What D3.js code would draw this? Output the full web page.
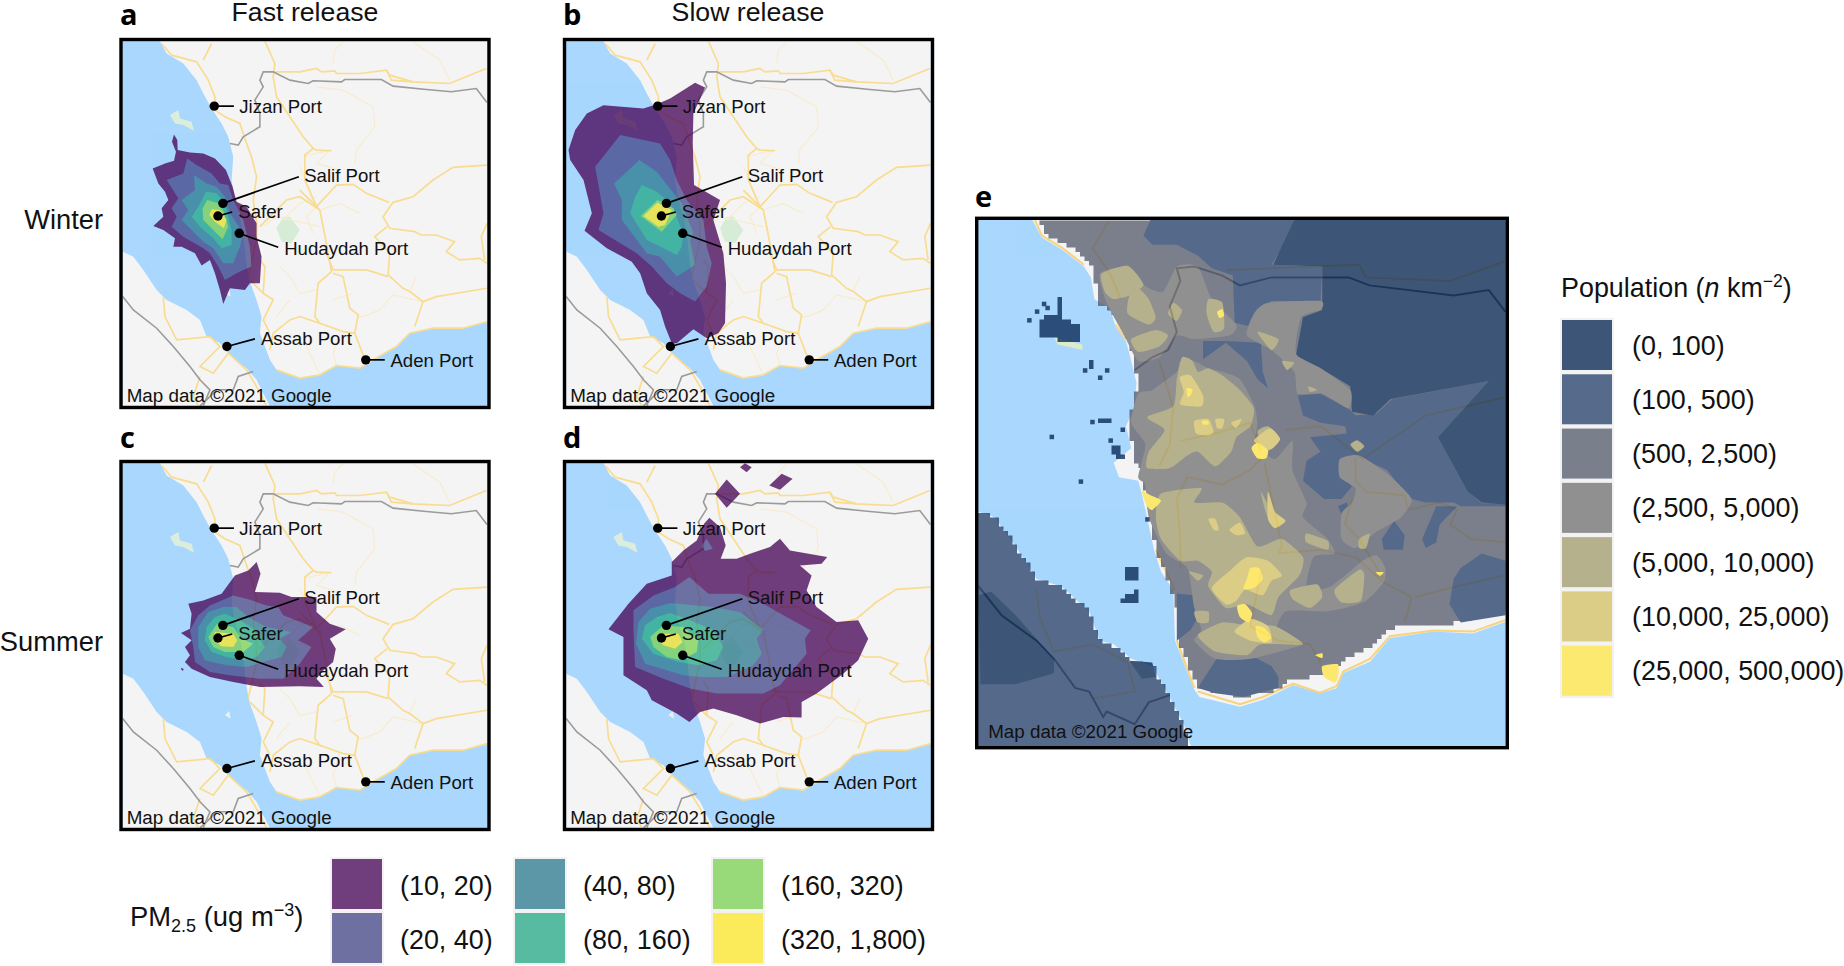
<!DOCTYPE html>
<html>
<head>
<meta charset="utf-8">
<script src="https://cdn.jsdelivr.net/npm/d3@7"></script>
<style>
  html, body { margin: 0; padding: 0; background: #fff; }
  svg { display: block; }
  text { font-family: "Liberation Sans", Arial, sans-serif; fill: #111; }
  .letter { font-family: "Open Sans", sans-serif; font-weight: 700; font-size: 29px; fill: #000; }
  .head { font-size: 26.7px; }
  .row { font-size: 27.3px; }
  .port { font-size: 18.6px; }
  .credit { font-size: 18.8px; }
  .leg { font-size: 26.9px; }
</style>
</head>
<body>
<svg id="chart" width="1844" height="966"></svg>
<script>
// map units are the same for panels a-d, e has its own set
var pmLabels = ['(10, 20)', '(20, 40)', '(40, 80)', '(80, 160)', '(160, 320)', '(320, 1,800)'];
var pmColours = ['#440154', '#414487', '#2a788e', '#22a884', '#7ad151', '#fde725'];
var popLabels = ['(0, 100)', '(100, 500)', '(500, 2,500)', '(2,500, 5,000)', '(5,000, 10,000)', '(10,000, 25,000)', '(25,000, 500,000)'];
var popColours = ['#00204d', '#213c69', '#525869', '#6f6f6f', '#a09b6a', '#d3bf62', '#ffe543'];

var portNames = ['Jizan Port', 'Salif Port', 'Safer', 'Hudaydah Port', 'Assab Port', 'Aden Port'];
var portPoints = [[343,318],[369,610],[354,648],[418,700],[381,1040],[798,1080]];
var portLineEnds = [[402,318],[597,530],[397,636],[535,742],[465,1017],[855,1080]];
var portLabelAt = [[418,338],[613,547],[415,655],[553,765],[483,1035],[872,1100]];

var arabiaLand = [[180,123],[200,160],[250,190],[290,240],[310,280],[335,325],[365,370],[385,410],[400,470],[395,540],[405,600],[420,650],[430,700],[435,750],[440,795],[450,845],[470,900],[485,950],[480,1000],[510,1080],[530,1110],[600,1135],[660,1125],[710,1097],[780,1105],[820,1080],[890,1040],[930,1000],[1000,985],[1090,985],[1163,965],[1163,123]];
var africaLand = [[68,755],[100,770],[130,810],[170,870],[200,900],[260,930],[300,960],[320,1010],[360,1030],[385,1060],[410,1085],[440,1105],[470,1140],[490,1180],[510,1218],[68,1218]];
var paleIsland = [[388,867],[392,890],[375,880]];
var reefs = [[[210,345],[235,330],[240,355],[275,365],[282,392],[250,375],[225,370]]];
var parkArea = [[550,650],[570,650],[600,690],[575,730],[545,725],[530,685]];
var mainRoads = [
  [[185,130],[215,165],[290,185],[325,240],[345,290],[345,330],[375,350],[420,370],[440,430],[455,470],[470,530],[460,600],[470,670],[470,720]],
  [[335,130],[310,180]],
  [[495,123],[525,190],[520,230],[530,290],[570,350],[610,410],[640,445],[615,465],[615,540],[650,620],[660,630],[675,705],[695,815],[655,850],[645,950],[660,970],[600,950],[570,960],[520,1000],[510,1050]],
  [[525,215],[600,215],[650,205],[665,215],[705,212],[710,220],[780,220],[860,210],[870,225],[940,245],[1050,250],[1160,205]],
  [[860,210],[875,240],[940,245]],
  [[640,445],[650,450],[695,452]],
  [[1162,495],[1060,502],[1000,540],[940,590],[880,607],[850,650],[870,685],[945,695],[965,705],[1010,705],[1065,725],[1040,755],[1080,780],[1140,775],[1162,790]],
  [[600,570],[650,620],[710,555],[760,553],[800,580],[868,607]],
  [[862,680],[825,710],[870,760],[865,825],[910,865],[930,875],[970,905],[945,980]],
  [[680,760],[700,810],[800,810],[865,830]],
  [[700,820],[730,830],[750,925],[775,945],[765,1000],[790,1065],[800,1085]],
  [[660,970],[730,995],[765,1000]],
  [[970,905],[1010,890],[1162,865]],
  [[1162,670],[1145,710],[1155,780]],
  [[450,840],[490,880],[520,900],[490,960],[510,1000]],
  [[490,880],[495,800],[480,780]],
  [[530,1110],[600,1135],[660,1125],[710,1097],[780,1105],[820,1080],[890,1040],[930,1000],[1000,985],[1090,985],[1163,965]],
  [[470,720],[445,830]],
  [[190,890],[195,950],[230,1020],[330,1010],[360,1040],[300,1100],[340,1120],[385,1060],[440,1110],[470,1160],[500,1218]],
  [[300,1130],[280,1190],[295,1218]],
  [[660,630],[600,590],[560,600],[480,680]]
];
var faintRoads = [
  [[650,260],[730,270],[820,320],[825,380],[770,450],[765,490]],
  [[940,125],[1020,180],[1050,240]],
  [[700,190],[705,150],[730,125]],
  [[610,470],[690,450],[650,490],[720,510]],
  [[550,660],[600,610],[650,590]],
  [[490,680],[530,650],[660,680]],
  [[600,500],[650,620],[620,650],[640,700]],
  [[660,630],[720,610],[780,640]],
  [[970,905],[880,885],[840,930],[790,950],[775,950]],
  [[930,875],[950,830]],
  [[700,900],[760,880]],
  [[650,870],[600,880],[570,830],[540,800]],
  [[530,950],[570,900]],
  [[570,1000],[620,1040],[660,1125]],
  [[720,1000],[700,1060],[710,1097]]
];
var saudiBorder = [[1162,307],[1130,265],[1055,275],[980,268],[880,258],[845,238],[735,238],[725,245],[640,242],[625,250],[570,240],[520,215],[490,215],[480,240],[490,260],[465,300],[480,340],[480,380],[430,410],[415,435],[390,430]];
var eritreaBorder = [[68,890],[100,930],[170,985],[220,1040],[270,1100],[300,1140],[330,1170],[310,1218]];
var djiboutiBorder = [[460,1115],[415,1130],[400,1170],[350,1170],[320,1200],[300,1218]];

// plume contours, lowest class first
var plumeFastWinter = [
  [[[222,403],[232,420],[233,450],[270,457],[310,460],[345,475],[378,510],[398,560],[410,605],[440,620],[470,670],[470,710],[485,770],[480,850],[450,850],[435,870],[390,865],[370,912],[360,870],[345,820],[330,780],[305,797],[285,760],[245,740],[220,740],[225,715],[190,690],[160,678],[190,650],[185,625],[205,600],[195,575],[175,550],[158,505],[195,490],[222,482],[228,455],[216,425]]],
  [[[262,475],[290,495],[335,520],[360,550],[385,555],[400,600],[430,660],[450,740],[455,800],[430,810],[410,820],[375,840],[355,800],[330,760],[310,745],[250,710],[215,680],[230,650],[215,625],[235,595],[200,540],[250,520]]],
  [[[282,525],[320,550],[350,560],[375,590],[390,640],[410,670],[430,700],[420,740],[400,790],[370,790],[340,745],[310,725],[245,660],[265,630],[245,600],[285,570]]],
  [[[318,575],[350,580],[375,610],[385,650],[395,690],[395,735],[365,745],[340,715],[300,680],[275,650],[295,620]]],
  [[[322,600],[355,610],[372,635],[385,680],[368,718],[340,690],[310,660],[308,625]]],
  [[[335,628],[360,630],[380,660],[372,685],[345,665],[328,645]]]
];
var plumeSlowWinter = [
  [[[435,248],[465,262],[430,340],[428,430],[432,555],[510,600],[490,660],[520,760],[528,850],[525,970],[505,1000],[470,1015],[430,988],[380,1030],[365,1030],[345,980],[330,930],[290,880],[270,820],[245,785],[170,745],[103,692],[125,640],[100,540],[60,480],[55,450],[75,390],[110,340],[160,315],[280,325],[320,312],[360,295]]],
  [[[210,405],[330,430],[360,480],[380,540],[410,600],[460,660],[470,740],[485,790],[470,860],[435,905],[390,880],[350,850],[305,800],[260,760],[145,690],[160,640],[135,500]]],
  [[[268,480],[320,515],[355,560],[395,610],[430,700],[420,720],[435,795],[380,830],[330,770],[290,760],[215,660],[215,600],[192,550]]],
  [[[275,555],[320,575],[350,600],[375,640],[400,700],[395,740],[380,765],[340,745],[290,720],[240,640],[255,590]]],
  [[[322,600],[370,625],[380,645],[335,695],[272,648]]],
  [[[322,608],[365,630],[345,675],[325,680],[280,648]]]
];
var plumeFastSummer = [
  [[[470,395],[482,430],[465,485],[540,487],[575,500],[650,500],[650,545],[690,580],[738,597],[690,625],[708,655],[700,695],[665,725],[650,745],[672,770],[600,768],[480,770],[400,755],[330,740],[275,715],[255,695],[270,675],[255,650],[275,630],[243,608],[270,595],[275,550],[265,520],[310,510],[365,490],[405,435],[445,420]],
   [[242,712],[252,716],[247,722]]],
  [[[400,495],[440,505],[500,525],[535,530],[550,555],[640,590],[595,630],[635,650],[600,700],[550,745],[480,745],[390,735],[330,725],[285,695],[280,650],[270,600],[295,555],[330,525]]],
  [[[410,530],[445,560],[500,590],[575,605],[540,625],[560,650],[545,680],[490,695],[440,710],[380,705],[315,690],[295,650],[295,590],[325,545],[370,530]]],
  [[[375,550],[420,570],[460,595],[495,650],[470,680],[430,690],[380,680],[335,665],[315,630],[320,590],[345,560]]],
  [[[350,582],[400,590],[425,625],[460,640],[430,665],[375,665],[340,650],[325,620]]],
  [[[345,605],[400,610],[412,630],[400,650],[365,648],[340,630]]]
];
var plumeSlowSummer = [
  [[[478,262],[510,290],[527,345],[512,385],[560,385],[600,370],[660,350],[690,325],[720,360],[832,380],[815,400],[750,405],[785,435],[770,480],[800,530],[860,575],[925,570],[955,625],[925,690],[880,730],[800,790],[755,815],[755,862],[700,860],[630,880],[560,855],[490,835],[450,845],[418,875],[380,850],[305,810],[290,780],[220,735],[220,620],[175,597],[235,520],[290,460],[365,435],[365,395],[400,360],[440,330],[462,280]],
   [[585,98],[605,110],[590,125],[570,110]],
   [[530,147],[570,190],[530,232],[495,190]],
   [[695,130],[728,145],[690,178],[658,165]]],
  [[[418,440],[475,490],[570,490],[640,520],[700,555],[782,600],[765,625],[770,670],[690,765],[640,790],[500,790],[420,775],[340,745],[255,710],[250,600],[250,540],[310,495],[375,470]],
   [[470,325],[488,355],[465,362],[455,345]]],
  [[[360,518],[440,525],[490,530],[570,545],[640,598],[620,625],[635,670],[610,705],[530,740],[450,740],[400,735],[335,715],[285,700],[258,640],[265,575],[300,535]]],
  [[[360,548],[420,570],[490,600],[520,650],[500,690],[445,705],[385,695],[310,670],[275,625],[285,585],[320,560]]],
  [[[340,585],[400,590],[445,625],[440,665],[395,690],[350,680],[310,650],[300,620]]],
  [[[335,610],[385,610],[398,635],[375,655],[340,645],[318,625]]]
];

// panel e
var eLand = [[178,82],[205,130],[265,165],[325,210],[345,240],[355,300],[400,325],[415,375],[445,415],[460,470],[475,530],[468,600],[445,650],[460,710],[410,750],[425,790],[480,800],[490,835],[505,900],[525,990],[545,1050],[580,1100],[585,1240],[640,1375],[655,1395],[770,1422],[836,1403],[922,1362],[998,1385],[1046,1371],[1065,1329],[1141,1298],[1198,1233],[1321,1215],[1435,1220],[1528,1188],[1528,82]];
var eAfrica = [[24,885],[70,900],[130,980],[190,1070],[260,1090],[340,1160],[370,1240],[410,1250],[460,1290],[520,1310],[560,1380],[610,1470],[630,1530],[24,1530]];
var eReef = [[240,405],[320,425],[322,440],[250,425]];
var eRoads = [
  [[395,85],[350,160],[400,230],[430,300]],
  [[1528,195],[1370,250],[1130,240],[1110,205],[730,220]],
  [[540,470],[580,600],[570,700],[540,760]],
  [[600,690],[700,670],[800,640],[830,720]],
  [[830,740],[800,770],[720,810],[620,790],[590,850],[600,960],[600,1040]],
  [[840,750],[890,980],[880,1000],[1000,990],[1100,1010],[1180,1080],[1260,1120],[1240,1190]],
  [[900,660],[1000,650],[1120,740],[1300,620],[1528,570]],
  [[1100,740],[1100,800],[1130,830],[1240,840],[1250,880]],
  [[1090,850],[1070,920],[1110,960],[1180,1070]],
  [[1528,1060],[1390,1090],[1270,1120]],
  [[1250,880],[1340,860],[1390,880],[1370,920],[1430,960],[1528,970]],
  [[830,1050],[800,1200],[880,1240],[970,1250],[1000,1300]],
  [[190,1100],[200,1180],[240,1270],[350,1250],[450,1300],[470,1380],[350,1400]]
];
var eCoastRoads = [
  [[185,82],[205,125],[265,160],[325,205]],
  [[415,370],[445,410]],
  [[530,990],[585,1100]],
  [[590,1240],[640,1370]],
  [[650,1380],[770,1415],[836,1395],[922,1358],[998,1383],[1046,1365],[1065,1325],[1141,1290],[1198,1228],[1321,1212],[1435,1215],[1528,1183]]
];
var eBorders = [
  [[1528,335],[1480,275],[1380,290],[1140,262],[1080,240],[860,240],[770,262],[720,235],[640,210],[590,215],[600,250],[570,320],[590,390],[565,440],[520,460],[470,495]],
  [[24,1090],[90,1170],[190,1240],[240,1290],[300,1370],[340,1380],[380,1450],[390,1435],[470,1470],[510,1410],[570,1390]]
];
// density classes, same order as popLabels
var popAreas = [
  [[[925,82],[1528,82],[1528,865],[1460,860],[1420,830],[1335,680],[1480,525],[1200,575],[1150,620],[1090,610],[1085,540],[1000,490],[930,455],[950,350],[1005,330],[1005,210],[865,205]],
   [[24,1115],[60,1105],[130,1170],[240,1290],[240,1330],[130,1360],[30,1360]],
   [[455,1295],[520,1300],[530,1340],[490,1345]]],
  [[[495,125],[520,150],[590,150],[650,180],[690,215],[750,235],[755,365],[800,375],[820,340],[860,305],[1000,305],[1005,210],[860,205],[915,120],[925,82],[515,82]],
   [[935,565],[1000,560],[1085,605],[1100,620],[1160,615],[1205,575],[1480,525],[1335,680],[1420,830],[1460,862],[1528,862],[1528,870],[1400,870],[1380,860],[1300,860],[1260,850],[1230,820],[1190,770],[1120,740],[1060,745],[1060,790],[1090,815],[1060,850],[1010,850],[950,800],[960,745],[1000,720],[970,680],[1075,670],[1070,650],[1000,640],[950,620]],
   [[665,415],[730,415],[830,420],[835,500],[850,545],[820,520],[790,470],[730,420],[665,465]],
   [[650,1370],[710,1280],[800,1280],[860,1310],[880,1340],[880,1370],[780,1395],[700,1385]],
   [[590,1110],[640,1115],[665,1150],[630,1210],[590,1240]],
   [[1380,1070],[1400,1040],[1460,1000],[1528,1020],[1528,1170],[1400,1190],[1368,1140]],
   [[1175,960],[1210,910],[1240,950],[1235,990],[1180,990]],
   [[1290,960],[1330,870],[1390,870],[1340,920],[1330,970],[1300,985]],
   [[1050,870],[1075,860],[1090,900],[1070,915]]],
  [[[190,82],[225,130],[290,160],[345,205],[360,260],[365,310],[410,345],[440,385],[465,460],[480,530],[470,590],[450,620],[450,680],[470,700],[465,730],[490,780],[510,870],[530,990],[570,1090],[590,1150],[590,1240],[650,1370],[770,1394],[828,1385],[893,1370],[904,1343],[1008,1339],[1065,1293],[1150,1256],[1193,1211],[1227,1201],[1374,1192],[1528,1160],[1528,82]]],
  [[[600,470],[640,470],[680,490],[720,500],[770,520],[810,590],[820,640],[815,700],[870,740],[920,690],[920,770],[960,860],[950,900],[1020,960],[1040,1000],[980,1010],[960,1100],[1030,1090],[1120,1020],[1160,1005],[1185,1040],[1180,1080],[1130,1130],[1070,1150],[1010,1160],[900,1160],[870,1230],[950,1250],[800,1290],[700,1290],[640,1240],[660,1210],[640,1150],[620,1040],[560,1000],[510,900],[500,810],[480,790],[500,700],[460,640],[480,560],[520,550],[590,500]],
   [[370,230],[450,210],[495,260],[550,280],[590,210],[650,210],[690,300],[760,370],[740,400],[640,410],[590,400],[540,460],[480,470],[440,400],[390,310]],
   [[850,310],[1000,305],[1000,330],[945,350],[930,450],[1000,490],[1085,550],[1080,600],[1005,560],[935,560],[925,500],[860,440],[790,400],[810,340]],
   [[1055,740],[1110,730],[1190,780],[1260,850],[1230,900],[1160,940],[1100,985],[1060,960],[1060,890],[1090,860],[1100,820],[1055,790]]],
  [[[375,230],[450,208],[495,260],[455,290],[410,300],[385,280]],
   [[480,270],[510,300],[530,350],[510,370],[450,340],[455,290]],
   [[460,410],[530,385],[565,400],[540,430],[480,445]],
   [[580,310],[605,330],[590,360],[565,340]],
   [[680,300],[720,310],[725,380],[695,390],[675,340]],
   [[820,390],[880,410],[860,440]],
   [[890,470],[925,475],[905,495]],
   [[965,540],[990,550],[970,555]],
   [[605,460],[635,470],[650,500],[680,490],[720,510],[770,550],[810,600],[800,650],[760,680],[745,720],[700,760],[650,720],[620,730],[570,765],[505,765],[510,720],[555,660],[505,625],[580,595],[590,520]],
   [[830,830],[860,880],[900,910],[870,930],[845,890]],
   [[960,945],[1020,965],[1020,990],[960,970]],
   [[545,835],[660,820],[640,860],[720,860],[770,900],[820,980],[890,960],[950,1010],[940,1060],[880,1120],[860,1170],[790,1140],[730,1150],[680,1090],[690,1050],[650,1020],[600,1020],[545,960],[530,900]],
   [[915,1100],[990,1085],[1005,1120],[970,1150],[920,1125]],
   [[1040,1100],[1110,1045],[1125,1060],[1115,1130],[1060,1135]],
   [[640,1160],[680,1160],[680,1190],[650,1190]],
   [[650,1225],[720,1190],[800,1200],[870,1200],[950,1250],[830,1250],[790,1280],[700,1270]],
   [[1085,700],[1105,688],[1125,705],[1105,720]],
   [[1110,960],[1140,945],[1130,985],[1110,985]],
   [[625,1050],[665,1060],[650,1075]],
   [[820,665],[850,650],[880,680],[845,720]]],
  [[[598,515],[630,510],[665,565],[660,595],[600,590],[610,555]],
   [[640,635],[680,630],[695,665],[680,675],[645,670]],
   [[700,630],[725,630],[720,655],[705,655]],
   [[745,640],[775,630],[760,655]],
   [[810,690],[855,655],[885,685],[855,715]],
   [[850,830],[870,885],[900,910],[870,930],[850,905]],
   [[680,905],[700,905],[710,935],[695,935]],
   [[740,935],[770,915],[785,945],[760,950]],
   [[690,1095],[745,1045],[790,1010],[850,1020],[890,1060],[860,1075],[835,1115],[785,1100],[760,1130],[730,1140]],
   [[755,1215],[800,1180],[850,1200],[860,1245],[800,1240]]],
  [[[618,545],[635,548],[630,565],[620,568]],
   [[662,635],[680,635],[680,645],[665,645]],
   [[705,335],[720,328],[725,345],[712,352]],
   [[803,710],[820,695],[850,715],[845,738],[820,738]],
   [[490,828],[515,840],[545,855],[520,880],[505,870]],
   [[800,1040],[825,1040],[835,1070],[810,1095],[780,1098],[790,1070]],
   [[762,1145],[785,1140],[805,1165],[795,1190],[770,1175]],
   [[815,1200],[840,1205],[860,1230],[840,1245],[820,1230]],
   [[1005,1310],[1050,1305],[1050,1340],[1040,1355],[1010,1340]],
   [[985,1280],[1005,1275],[1005,1288]],
   [[1158,1052],[1180,1052],[1170,1062]]]
];
var popAfrica = [[24,885],[70,900],[130,980],[190,1070],[260,1095],[340,1160],[370,1240],[410,1255],[460,1295],[520,1310],[560,1380],[610,1470],[622,1530],[24,1530]];
// blocky islands in the Red Sea
var popIslands = [
  [[245,295],[262,295],[262,355],[295,365],[320,380],[315,420],[240,410],[200,400],[200,360],[215,345],[245,340]],
  [[338,465],[358,465],[358,495],[338,485]],
  [[370,625],[410,625],[410,638],[370,638]],
  [[425,650],[445,650],[445,662],[425,662]],
  [[400,700],[425,700],[440,735],[415,740]],
  [[443,1035],[475,1035],[475,1075],[443,1075]],
  [[430,1125],[475,1100],[475,1138],[430,1138]]
];
var popCells = [[205,307],[215,318],[185,328],[163,352],[322,490],[385,490],[365,510],[343,632],[227,673],[395,683],[310,796],[500,900]];

var panels = [
  { letter: 'a', left: 121, top: 39.5, dx: 68, dy: 123, plume: plumeFastWinter, letterX: 120, letterY: 25 },
  { letter: 'b', left: 564.5, top: 39.5, dx: 48, dy: 123, plume: plumeSlowWinter, letterX: 563, letterY: 25 },
  { letter: 'c', left: 121, top: 461.5, dx: 68, dy: 98, plume: plumeFastSummer, letterX: 120, letterY: 448 },
  { letter: 'd', left: 564.5, top: 461.5, dx: 48, dy: 98, plume: plumeSlowSummer, letterX: 563, letterY: 448 }
];
var panelSize = 368;

var svg = d3.select('#chart');
var defs = svg.append('defs');

function path(points, curve) {
  return d3.line().curve(curve || d3.curveLinearClosed)(points);
}

// scale a list of map points, used for every outline
function project(x, y) {
  return function (pts) { return pts.map(function (p) { return [x(p[0]), y(p[1])]; }); };
}

// the density raster is coarse, so snap an outline onto its cells
function pixelate(pts, cell) {
  var out = [];
  pts.forEach(function (p, i) {
    var q = pts[(i + 1) % pts.length];
    var n = Math.ceil(Math.hypot(q[0] - p[0], q[1] - p[1]) / (cell / 2));
    d3.range(n).forEach(function (k) {
      var c = [Math.round((p[0] + (q[0] - p[0]) * k / n) / cell) * cell, Math.round((p[1] + (q[1] - p[1]) * k / n) / cell) * cell];
      var last = out[out.length - 1];
      if (!last || last[0] !== c[0] || last[1] !== c[1]) out.push(c);
    });
  });
  out.push(out[0]);
  return out;
}

panels.forEach(function (p, i) {
  var g = svg.append('g');
  var id = 'clip' + i;
  defs.append('clipPath').attr('id', id).append('rect')
    .attr('x', p.left).attr('y', p.top).attr('width', panelSize).attr('height', panelSize);

  var x = d3.scaleLinear().domain([68, 1163]).range([p.left + 1.7, p.left + panelSize - 1.7]);
  var y = d3.scaleLinear().domain([123, 1218]).range([p.top + 1.7, p.top + panelSize - 1.7]);
  var px = d3.scaleLinear().domain([p.dx, p.dx + 1095]).range(x.range());
  var py = d3.scaleLinear().domain([p.dy, p.dy + 1095]).range(y.range());
  var base = project(x, y), plumePts = project(px, py);

  var map = g.append('g').attr('clip-path', 'url(#' + id + ')');
  map.append('rect').attr('x', p.left).attr('y', p.top).attr('width', panelSize).attr('height', panelSize).attr('fill', '#a9d7fe');
  map.append('path').attr('d', path(base(arabiaLand))).attr('fill', '#f4f4f4');
  map.append('path').attr('d', path(base(africaLand))).attr('fill', '#f4f4f4');
  map.append('path').attr('d', path(base(paleIsland))).attr('fill', '#edf1ee');
  reefs.forEach(function (r) { map.append('path').attr('d', path(base(r))).attr('fill', '#dceedb'); });
  map.append('path').attr('d', path(base(parkArea))).attr('fill', '#d7ecd6');

  faintRoads.forEach(function (r) {
    map.append('path').attr('d', path(base(r), d3.curveLinear)).attr('fill', 'none').attr('stroke', '#f8ecce').attr('stroke-width', 1.2);
  });
  mainRoads.forEach(function (r) {
    map.append('path').attr('d', path(base(r), d3.curveLinear)).attr('fill', 'none').attr('stroke', '#f9dc90').attr('stroke-width', 1.7);
  });
  [saudiBorder, eritreaBorder, djiboutiBorder].forEach(function (r) {
    map.append('path').attr('d', path(base(r), d3.curveLinear)).attr('fill', 'none').attr('stroke', '#9b9b9b').attr('stroke-width', 1.6);
  });

  var plume = map.append('g').attr('opacity', 0.75);
  p.plume.forEach(function (shapes, k) {
    shapes.forEach(function (s) {
      plume.append('path').attr('d', path(plumePts(s))).attr('fill', pmColours[k]);
    });
  });

  map.append('text').attr('class', 'credit').attr('x', x(80)).attr('y', y(1207)).text('Map data ©2021 Google');

  portNames.forEach(function (name, k) {
    g.append('line')
      .attr('x1', x(portPoints[k][0])).attr('y1', y(portPoints[k][1]))
      .attr('x2', x(portLineEnds[k][0])).attr('y2', y(portLineEnds[k][1]))
      .attr('stroke', '#000').attr('stroke-width', 1.7);
    g.append('circle')
      .attr('cx', x(portPoints[k][0])).attr('cy', y(portPoints[k][1])).attr('r', 4.7).attr('fill', '#000');
    g.append('text').attr('class', 'port')
      .attr('x', x(portLabelAt[k][0])).attr('y', y(portLabelAt[k][1])).text(name);
  });

  g.append('rect').attr('x', p.left).attr('y', p.top).attr('width', panelSize).attr('height', panelSize)
    .attr('fill', 'none').attr('stroke', '#000').attr('stroke-width', 3.4);
  svg.append('text').attr('class', 'letter').attr('x', p.letterX).attr('y', p.letterY).text(p.letter);
});

svg.append('text').attr('class', 'head').attr('x', 305).attr('y', 20.5).attr('text-anchor', 'middle').text('Fast release');
svg.append('text').attr('class', 'head').attr('x', 748).attr('y', 20.5).attr('text-anchor', 'middle').text('Slow release');
svg.append('text').attr('class', 'row').attr('x', 103).attr('y', 229).attr('text-anchor', 'end').text('Winter');
svg.append('text').attr('class', 'row').attr('x', 103).attr('y', 651).attr('text-anchor', 'end').text('Summer');

// panel e
(function () {
  var left = 976.7, top = 218.3, w = 530.6, h = 529.4;
  var x = d3.scaleLinear().domain([24, 1528]).range([left + 1.7, left + w - 1.7]);
  var y = d3.scaleLinear().domain([82, 1530]).range([top + 1.7, top + h - 1.7]);
  var pts = project(x, y);
  var cell = 4.5;

  defs.append('clipPath').attr('id', 'clipE').append('rect').attr('x', left).attr('y', top).attr('width', w).attr('height', h);
  var g = svg.append('g').attr('clip-path', 'url(#clipE)');
  g.append('rect').attr('x', left).attr('y', top).attr('width', w).attr('height', h).attr('fill', '#a9d7fe');
  g.append('path').attr('d', path(pts(eLand))).attr('fill', '#f4f4f4');
  g.append('path').attr('d', path(pts(eAfrica))).attr('fill', '#f4f4f4');
  g.append('path').attr('d', path(pts(eReef))).attr('fill', '#dcecc8');
  eRoads.forEach(function (r) {
    g.append('path').attr('d', path(pts(r), d3.curveLinear)).attr('fill', 'none').attr('stroke', '#fbd98c').attr('stroke-width', 2);
  });
  eCoastRoads.forEach(function (r) {
    g.append('path').attr('d', path(pts(r), d3.curveLinear)).attr('fill', 'none').attr('stroke', '#f8d27c').attr('stroke-width', 2);
  });
  eBorders.forEach(function (r) {
    g.append('path').attr('d', path(pts(r), d3.curveLinear)).attr('fill', 'none').attr('stroke', '#707070').attr('stroke-width', 2);
  });

  var pop = g.append('g').attr('opacity', 0.75);
  var soft = d3.curveCardinalClosed.tension(0.4);
  pop.append('path').attr('d', path(pixelate(pts(popAreas[2][0]), cell), d3.curveStepAfter)).attr('fill', popColours[2]);
  pop.append('path').attr('d', path(pixelate(pts(popAfrica), cell), d3.curveStepAfter)).attr('fill', popColours[1]);
  [1, 0, 3, 4, 5, 6].forEach(function (k) {
    popAreas[k].forEach(function (s) {
      pop.append('path').attr('d', path(pts(s), k > 2 ? soft : d3.curveLinearClosed)).attr('fill', popColours[k]);
    });
  });
  popIslands.forEach(function (s) {
    pop.append('path').attr('d', path(pixelate(pts(s), cell), d3.curveStepAfter)).attr('fill', popColours[0]);
  });
  pop.selectAll('rect.cell').data(popCells).enter().append('rect').attr('class', 'cell')
    .attr('x', function (d) { return x(d[0]); }).attr('y', function (d) { return y(d[1]); })
    .attr('width', cell).attr('height', cell).attr('fill', popColours[0]);

  g.append('text').attr('class', 'credit').attr('x', x(52)).attr('y', y(1507)).text('Map data ©2021 Google');
  svg.append('rect').attr('x', left).attr('y', top).attr('width', w).attr('height', h)
    .attr('fill', 'none').attr('stroke', '#000').attr('stroke-width', 3.4);
  svg.append('text').attr('class', 'letter').attr('x', 975).attr('y', 207).text('e');
})();

// PM2.5 legend
var pmColumn = d3.scaleOrdinal().domain([0, 1, 2]).range([332, 515, 713]);
var pmRow = d3.scaleBand().domain([0, 1]).range([857, 965]);
var keySize = 50;
var pmLegend = svg.append('g');
pmLabels.forEach(function (label, i) {
  var col = Math.floor(i / 2), row = i % 2;
  pmLegend.append('rect').attr('x', pmColumn(col) - 2).attr('y', pmRow(row)).attr('width', keySize + 4).attr('height', keySize + 4).attr('fill', '#f2f2f2');
  pmLegend.append('rect').attr('x', pmColumn(col)).attr('y', pmRow(row) + 2).attr('width', keySize).attr('height', keySize)
    .attr('fill', pmColours[i]).attr('opacity', 0.75);
  pmLegend.append('text').attr('class', 'leg').attr('x', pmColumn(col) + 68).attr('y', pmRow(row) + 38).text(label);
});
var pmTitle = svg.append('text').attr('class', 'leg').style('font-size', '27.4px').attr('x', 130).attr('y', 926);
pmTitle.append('tspan').text('PM');
pmTitle.append('tspan').attr('dy', 6).style('font-size', '18px').text('2.5');
pmTitle.append('tspan').attr('dy', -6).text(' (ug m');
pmTitle.append('tspan').attr('dy', -10).style('font-size', '18px').text('−3');
pmTitle.append('tspan').attr('dy', 10).text(')');

// population legend
var popRow = d3.scaleBand().domain(popLabels).range([318, 698]);
var popLegend = svg.append('g');
popLabels.forEach(function (label, i) {
  popLegend.append('rect').attr('x', 1560).attr('y', popRow(label)).attr('width', keySize + 4).attr('height', popRow.step()).attr('fill', '#f2f2f2');
  popLegend.append('rect').attr('x', 1562).attr('y', popRow(label) + 2).attr('width', keySize).attr('height', keySize)
    .attr('fill', popColours[i]).attr('opacity', 0.75);
  popLegend.append('text').attr('class', 'leg').attr('x', 1632).attr('y', popRow(label) + 36.5).text(label);
});
var popTitle = svg.append('text').attr('class', 'leg').attr('x', 1561).attr('y', 297);
popTitle.append('tspan').text('Population (');
popTitle.append('tspan').style('font-style', 'italic').text('n');
popTitle.append('tspan').text(' km');
popTitle.append('tspan').attr('dy', -10).style('font-size', '17.5px').text('−2');
popTitle.append('tspan').attr('dy', 10).text(')');
</script>
</body>
</html>
